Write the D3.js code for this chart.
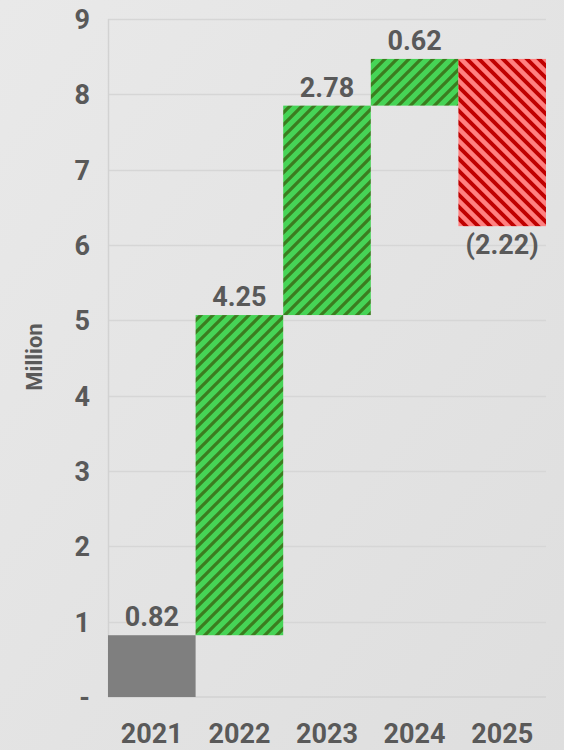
<!DOCTYPE html>
<html><head><meta charset="utf-8">
<script src="https://cdn.jsdelivr.net/npm/d3@7"></script>
<style>
html,body{margin:0;padding:0;background:#e4e4e4;}
svg{display:block;font-family:Roboto,"Liberation Sans",sans-serif;}
</style></head>
<body><div id="chart"></div>
<script>
const categories = ["2021","2022","2023","2024","2025"];
const values = [0.82, 4.25, 2.78, 0.62, -2.22];
const kinds = ["total","up","up","up","down"];
const tickValues = [0,1,2,3,4,5,6,7,8,9];
const tickLabels = ["-","1","2","3","4","5","6","7","8","9"];
const labels = ["0.82","4.25","2.78","0.62","(2.22)"];
const axisTitle = "Million";

const W = 564, H = 750;
const m = {left:108, right:18, top:19, bottom:53};
const svg = d3.select("#chart").append("svg").attr("width",W).attr("height",H);

const defs = svg.append("defs");
const grad = defs.append("linearGradient").attr("id","bgg").attr("x1","0").attr("y1","0").attr("x2","1").attr("y2","1");
grad.append("stop").attr("offset","0").attr("stop-color","#e9e9e9");
grad.append("stop").attr("offset","1").attr("stop-color","#dedede");
svg.append("rect").attr("width",W).attr("height",H).attr("fill","url(#bgg)");

function pat(id, bgc, fg, dir, sw){
  const P = 12;
  const p = defs.append("pattern").attr("id",id).attr("patternUnits","userSpaceOnUse").attr("width",P).attr("height",P);
  p.append("rect").attr("width",P).attr("height",P).attr("fill",bgc);
  const d = dir==="up"
    ? `M-3,3 L3,-3 M0,${P} L${P},0 M${P-3},${P+3} L${P+3},${P-3}`
    : `M-3,${P-3} L3,${P+3} M0,0 L${P},${P} M${P-3},-3 L${P+3},3`;
  p.append("path").attr("d",d).attr("stroke",fg).attr("stroke-width",sw);
}
pat("pg","#46d456","#3b7d1f","up",3.3);
pat("pr","#ff8080","#c00000","down",3.9);

const x = d3.scaleBand().domain(categories).range([m.left, W-m.right]).padding(0);
const y = d3.scaleLinear().domain([0,9]).range([H-m.bottom, m.top]);

// gridlines
svg.append("g").selectAll("line").data(tickValues.filter(d=>d>0)).join("line")
  .attr("x1",m.left).attr("x2",W-m.right).attr("y1",d=>Math.round(y(d))+0.5).attr("y2",d=>Math.round(y(d))+0.5)
  .attr("stroke","#d6d6d6").attr("stroke-width",1.5);
svg.append("line").attr("x1",m.left+0.5).attr("x2",m.left+0.5).attr("y1",y(9)).attr("y2",y(0))
  .attr("stroke","#d2d2d2").attr("stroke-width",1.5);
svg.append("line").attr("x1",m.left).attr("x2",W-m.right).attr("y1",y(0)).attr("y2",y(0))
  .attr("stroke","#d2d2d2").attr("stroke-width",1.5);

// waterfall
let cum = 0;
const bars = categories.map((c,i)=>{
  let start, end;
  if(kinds[i]==="total"){ start=0; end=values[i]; cum=values[i]; }
  else { start=cum; end=cum+values[i]; cum=end; }
  return {c, v:values[i], kind:kinds[i], lo:Math.min(start,end), hi:Math.max(start,end), label:labels[i]};
});

svg.append("g").selectAll("rect").data(bars).join("rect")
  .attr("x",d=>x(d.c)).attr("width",x.bandwidth())
  .attr("y",d=>y(d.hi)).attr("height",d=>y(d.lo)-y(d.hi))
  .attr("fill",d=>d.kind==="total"?"#7f7f7f":d.kind==="up"?"url(#pg)":"url(#pr)");

svg.append("g").selectAll("text").data(bars).join("text")
  .attr("x",d=>x(d.c)+x.bandwidth()/2)
  .attr("y",d=>d.kind==="down" ? y(d.lo)+28 : y(d.hi)-9)
  .attr("text-anchor","middle").attr("font-size",27).attr("font-weight","bold").attr("fill","#595959")
  .text(d=>d.label);

// y tick labels
svg.append("g").selectAll("text").data(tickValues).join("text")
  .attr("x",90).attr("y",d=>y(d)+10).attr("text-anchor","end")
  .attr("font-size",27).attr("font-weight","bold").attr("fill","#595959")
  .text((d,i)=>tickLabels[i]);

// x labels
svg.append("g").selectAll("text").data(categories).join("text")
  .attr("x",d=>x(d)+x.bandwidth()/2).attr("y",743).attr("text-anchor","middle")
  .attr("font-size",27).attr("font-weight","bold").attr("fill","#595959").text(d=>d);

svg.append("text").attr("transform","translate(42,357) rotate(-90)").attr("text-anchor","middle")
  .attr("font-size",22).attr("font-weight","bold").attr("fill","#595959").text(axisTitle);
</script></body></html>
